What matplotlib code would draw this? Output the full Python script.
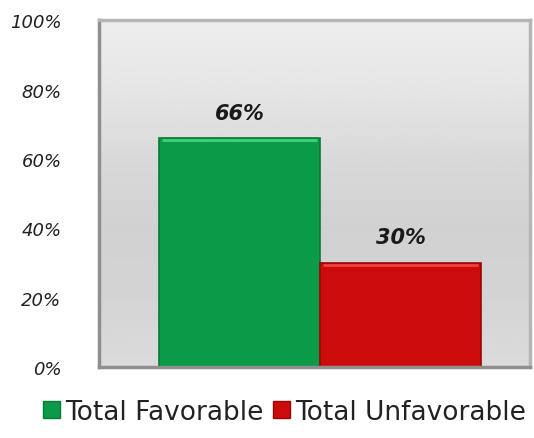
import numpy as np
import matplotlib
matplotlib.use("Agg")
import matplotlib.pyplot as plt
from matplotlib.patches import Patch

# data
series = ["Total Favorable", "Total Unfavorable"]
values = [0.66, 0.30]
value_labels = ["66%", "30%"]
bar_colors = ["#0a9a48", "#cc0b0b"]
edge_colors = ["#067a36", "#9a0606"]
yticks = [0.0, 0.2, 0.4, 0.6, 0.8, 1.0]
ytick_labels = ["0%", "20%", "40%", "60%", "80%", "100%"]

fig = plt.figure(figsize=(5.34, 4.39), dpi=100)
ax = fig.add_axes([0.1854, 0.1617, 0.807, 0.790])

# grey gradient panel (bottom -> top)
stops = [0.86, 0.83, 0.82, 0.85, 0.90, 0.93]
grad = np.interp(np.linspace(0, 1, 200), np.linspace(0, 1, len(stops)), stops).reshape(-1, 1)
ax.imshow(grad, cmap="gray", vmin=0, vmax=1, aspect="auto",
          extent=(0, 1, 0, 1), transform=ax.transAxes, origin="lower", zorder=0)

x = np.arange(len(series)) - 0.5
bars = ax.bar(x, values, width=1.0, color=bar_colors, edgecolor=edge_colors,
              linewidth=1.2, zorder=2)

# light bevel highlight on top of each bar
for b, c in zip(bars, ["#3fd07a", "#f04040"]):
    ax.plot([b.get_x() + 0.02, b.get_x() + b.get_width() - 0.02],
            [b.get_height() - 0.006] * 2, color=c, lw=2, zorder=3,
            solid_capstyle="butt")

for xi, v, lab in zip(x, values, value_labels):
    ax.text(xi, v + 0.045, lab, ha="center", va="bottom", fontsize=15,
            fontweight="bold", fontstyle="italic", color="#1a1a1a", zorder=4)

ax.set_xlim(-1.373, 1.304)
ax.set_ylim(0, 1.0)
ax.set_yticks(yticks)
ax.set_yticklabels(ytick_labels, fontstyle="italic", fontsize=13, color="#222222")
ax.set_xticks([])
ax.tick_params(axis="y", length=0, pad=27)
for name, s in ax.spines.items():
    s.set_color("#8f8f8f" if name in ("left", "bottom") else "#b5b5b5")
    s.set_linewidth(2.5)

handles = [Patch(facecolor=c, edgecolor=e) for c, e in zip(bar_colors, edge_colors)]
fig.legend(handles, series, loc="center", bbox_to_anchor=(0.533, 0.06), ncol=2,
           frameon=False, fontsize=19, handlelength=0.65, handleheight=0.65,
           handletextpad=0.2, columnspacing=0.35, labelcolor="#222222")

fig.savefig("out.png", dpi=100)
